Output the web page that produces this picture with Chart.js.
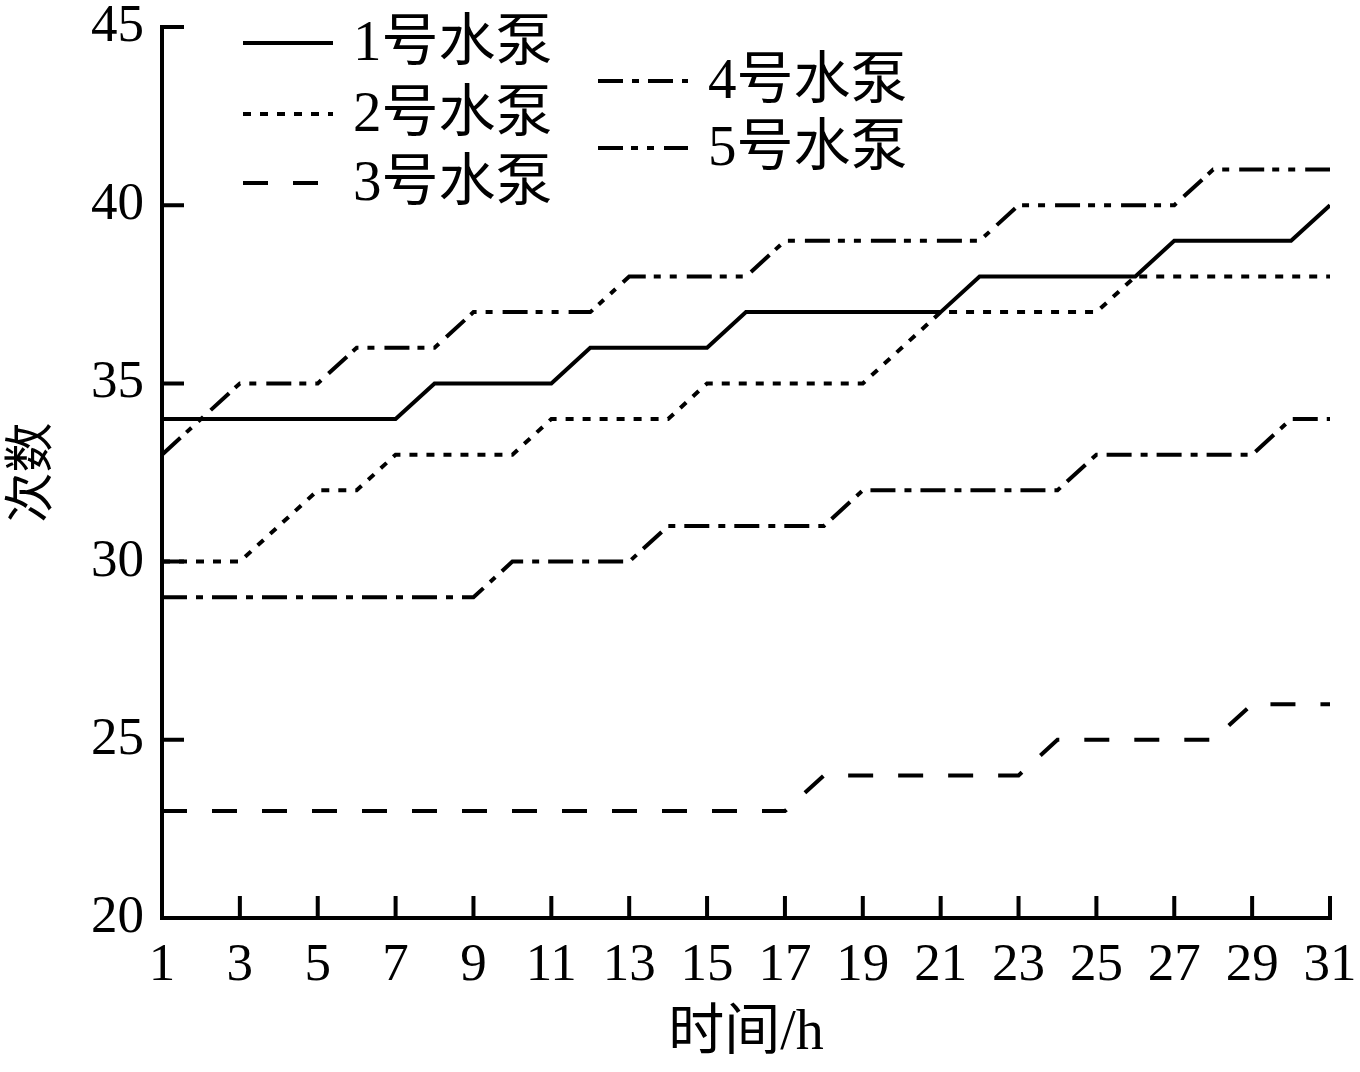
<!DOCTYPE html>
<html>
<head>
<meta charset="utf-8">
<script src="https://cdn.jsdelivr.net/npm/chart.js@4.4.1/dist/chart.umd.min.js"></script>
<style>
  html, body { margin: 0; padding: 0; background: #fff; }
</style>
</head>
<body>
<canvas id="pumpChart" width="1360" height="1072"></canvas>
<script>
const hours = [1, 2, 3, 4, 5, 6, 7, 8, 9, 10, 11, 12, 13, 14, 15, 16, 17, 18, 19, 20, 21, 22, 23, 24, 25, 26, 27, 28, 29, 30, 31];
const pump1 = [34, 34, 34, 34, 34, 34, 34, 35, 35, 35, 35, 36, 36, 36, 36, 37, 37, 37, 37, 37, 37, 38, 38, 38, 38, 38, 39, 39, 39, 39, 40];
const pump2 = [30, 30, 30, 31, 32, 32, 33, 33, 33, 33, 34, 34, 34, 34, 35, 35, 35, 35, 35, 36, 37, 37, 37, 37, 37, 38, 38, 38, 38, 38, 38];
const pump3 = [23, 23, 23, 23, 23, 23, 23, 23, 23, 23, 23, 23, 23, 23, 23, 23, 23, 24, 24, 24, 24, 24, 24, 25, 25, 25, 25, 25, 26, 26, 26];
const pump4 = [29, 29, 29, 29, 29, 29, 29, 29, 29, 30, 30, 30, 30, 31, 31, 31, 31, 31, 32, 32, 32, 32, 32, 32, 33, 33, 33, 33, 33, 34, 34];
const pump5 = [33, 34, 35, 35, 35, 36, 36, 36, 37, 37, 37, 37, 38, 38, 38, 38, 39, 39, 39, 39, 39, 39, 40, 40, 40, 40, 40, 41, 41, 41, 41];
const pumpNames = ["1号水泵", "2号水泵", "3号水泵", "4号水泵", "5号水泵"];
const xTicks = [1, 3, 5, 7, 9, 11, 13, 15, 17, 19, 21, 23, 25, 27, 29, 31];
const yTicks = [20, 25, 30, 35, 40, 45];

const serif = '"Liberation Serif", "Noto Sans CJK SC", serif';

// line styles per pump, same order as pumpNames
const dashes = [[], [8, 9], [25, 25], [25, 9, 7, 9], [25, 8, 7, 9, 7, 10]];
const series = [pump1, pump2, pump3, pump4, pump5];

// where each legend entry sits (line start x, y)
const legendSpots = [
  [243, 43], [243, 114], [243, 183],
  [598, 81], [598, 148],
];

const datasets = series.map((values, i) => ({
  label: pumpNames[i],
  data: hours.map((h, j) => ({ x: h, y: values[j] })),
  borderColor: "#000",
  borderWidth: 4,
  borderDash: dashes[i],
  pointRadius: 0,
  tension: 0,
  fill: false,
}));

const noPad = (scale) => {
  scale.paddingLeft = 0;
  scale.paddingRight = 0;
  scale.paddingTop = 0;
  scale.paddingBottom = 0;
};

const axesAndLegend = {
  id: "axesAndLegend",
  afterDatasetsDraw(chart) {
    const { ctx } = chart;
    const { x, y } = chart.scales;
    const left = x.getPixelForValue(xTicks[0]);
    const right = x.getPixelForValue(xTicks[xTicks.length - 1]);
    const bottom = y.getPixelForValue(yTicks[0]);
    const top = y.getPixelForValue(yTicks[yTicks.length - 1]);
    const tick = 22;

    ctx.save();
    ctx.strokeStyle = "#000";
    ctx.lineWidth = 4;
    ctx.setLineDash([]);
    ctx.beginPath();
    ctx.moveTo(left, top - 2);
    ctx.lineTo(left, bottom);
    ctx.lineTo(right + 2, bottom);
    ctx.stroke();

    ctx.beginPath();
    yTicks.forEach((v) => {
      const py = y.getPixelForValue(v);
      ctx.moveTo(left, py);
      ctx.lineTo(left + tick, py);
    });
    xTicks.slice(1).forEach((v) => {
      const px = x.getPixelForValue(v);
      ctx.moveTo(px, bottom);
      ctx.lineTo(px, bottom - tick);
    });
    ctx.stroke();

    // legend
    ctx.font = "57px " + serif;
    ctx.fillStyle = "#000";
    ctx.textBaseline = "middle";
    chart.data.datasets.forEach((ds, i) => {
      const [lx, ly] = legendSpots[i];
      ctx.setLineDash(ds.borderDash);
      ctx.lineWidth = 4;
      ctx.beginPath();
      ctx.moveTo(lx, ly);
      ctx.lineTo(lx + 90, ly);
      ctx.stroke();
      ctx.setLineDash([]);
      ctx.fillText(ds.label, lx + 110, ly + 2);
    });
    ctx.restore();
  },
};

new Chart(document.getElementById("pumpChart"), {
  type: "line",
  data: { datasets },
  options: {
    responsive: false,
    animation: false,
    layout: { padding: { top: 27, right: 30, left: 0, bottom: 0 } },
    plugins: {
      legend: { display: false },
      tooltip: { enabled: false },
    },
    scales: {
      x: {
        type: "linear",
        min: 1,
        max: 31,
        grid: { display: false, drawTicks: false },
        border: { display: false },
        afterBuildTicks: (scale) => {
          scale.ticks = xTicks.map((v) => ({ value: v }));
        },
        afterFit: (scale) => {
          scale.height = 154;
          noPad(scale);
        },
        ticks: {
          color: "#000",
          padding: 16,
          maxRotation: 0,
          font: { family: serif, size: 53 },
          callback: (v) => String(v),
        },
        title: {
          display: true,
          text: "时间/h",
          color: "#000",
          font: { family: serif, size: 56 },
          padding: { top: 0, bottom: 4 },
        },
      },
      y: {
        min: 20,
        max: 45,
        grid: { display: false, drawTicks: false },
        border: { display: false },
        afterBuildTicks: (scale) => {
          scale.ticks = yTicks.map((v) => ({ value: v }));
        },
        afterFit: (scale) => {
          scale.width = 162;
          noPad(scale);
        },
        ticks: {
          color: "#000",
          padding: 18,
          font: { family: serif, size: 53 },
          callback: (v) => String(v),
        },
        title: {
          display: true,
          text: "次数",
          color: "#000",
          font: { family: serif, size: 50 },
          padding: { top: 4, bottom: 0 },
        },
      },
    },
  },
  plugins: [axesAndLegend],
});
</script>
</body>
</html>
